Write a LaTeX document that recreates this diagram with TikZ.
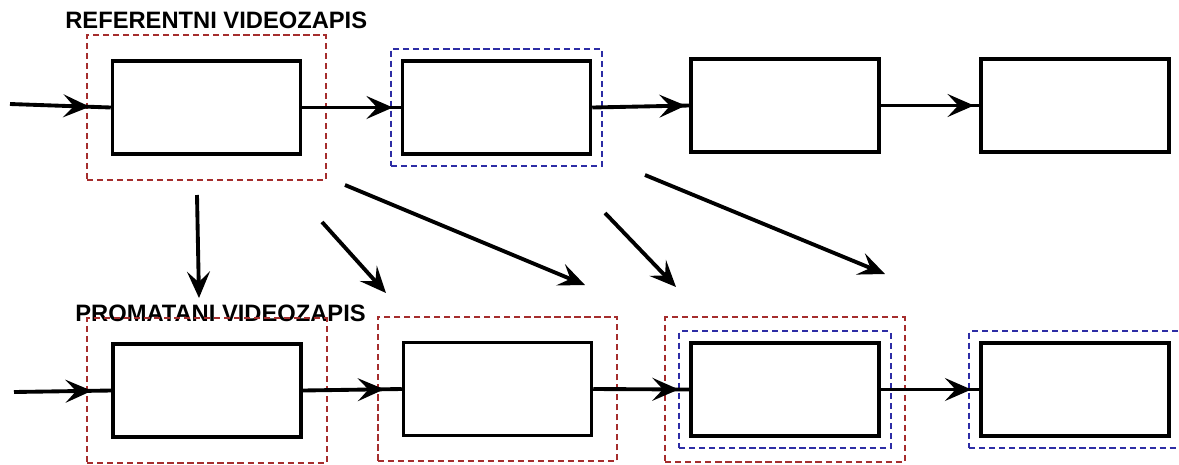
\documentclass[tikz,border=0pt]{standalone}
\usepackage{fontspec}
\newfontfamily\labelfont{Liberation Sans}
\usetikzlibrary{arrows.meta, fit, decorations.markings}
\definecolor{groupred}{RGB}{165,45,45}
\definecolor{groupblue}{RGB}{45,45,165}
\tikzset{
  frame/.style={draw, line width=2pt, minimum width=3.76cm, minimum height=1.86cm, inner sep=0pt},
  redgroup/.style={draw=groupred, line width=1pt, dash pattern=on 3.5pt off 2.2pt, inner sep=0.48cm},
  bluegroup/.style={draw=groupblue, line width=1pt, dash pattern=on 3.5pt off 2.2pt, inner sep=0.2cm},
  rowlabel/.style={font=\labelfont\bfseries\fontsize{13.5}{16}\selectfont, anchor=base west, inner sep=0pt}
}
\tikzset{
  flow/.style={line width=2.2pt, postaction={decorate},
    decoration={markings, mark=at position -#1 with {\arrow{Stealth[length=15pt,width=13pt,inset=6pt]}}}},
  jump/.style={line width=2.2pt, -{Stealth[length=15pt,width=13pt,inset=6pt]}}
}
\begin{document}
\begin{tikzpicture}[x=0.02cm, y=-0.02cm]
  \useasboundingbox (0,0) rectangle (1179,464);
  % reference row
  \node[rowlabel] (reflabel) at (65,28) {REFERENTNI VIDEOZAPIS};
  \node[frame] (r1) at (206.5,107.5) {};
  \node[frame] (r2) at (496.5,107.5) {};
  \node[frame] (r3) at (785,105.5) {};
  \node[frame] (r4) at (1075,105.5) {};
  \node[redgroup, fit=(r1)] (rg1) {};
  \node[bluegroup, fit=(r2)] (bg2) {};
  % watched row
  \node[rowlabel] (prolabel) at (75,321) {PROMATANI VIDEOZAPIS};
  \node[frame] (p1) at (207,390.5) {};
  \node[frame] (p2) at (497.5,389) {};
  \node[frame] (p3) at (785,389.5) {};
  \node[frame] (p4) at (1075,389.5) {};
  \node[redgroup, fit=(p1)] (pg1) {};
  \node[redgroup, fit=(p2)] (pg2) {};
  \node[redgroup, fit=(p3)] (pg3) {};
  \node[bluegroup, fit=(p3)] (qb3) {};
  \node[bluegroup, fit=(p4)] (qb4) {};
  % chains
  \coordinate (rin) at (10,104);
  \coordinate (pin) at (14,392);
  \draw[flow=12pt] (rin) -- (r1.west);
  \draw[flow=4.5pt] (r1.east) -- (r2.west);
  \draw[flow=2pt] (r2.east) -- (r3.west);
  \draw[flow=3pt] (r3.east) -- (r4.west);
  \draw[flow=11pt] (pin) -- (p1.west);
  \draw[flow=10pt] (p1.east) -- (p2.west);
  \draw[flow=6pt] (p2.east) -- (p3.west);
  \draw[flow=4.5pt] (p3.east) -- (p4.west);
  % matching jumps between the rows
  \coordinate (j1s) at (197,195);  \coordinate (j1e) at (199,298);
  \coordinate (j2s) at (322,222);  \coordinate (j2e) at (386,293);
  \coordinate (j3s) at (345,185);  \coordinate (j3e) at (585,285);
  \coordinate (j4s) at (605,213);  \coordinate (j4e) at (676,287);
  \coordinate (j5s) at (645,175);  \coordinate (j5e) at (885,274);
  \foreach \k in {1,...,5}
    \draw[jump] (j\k s) -- (j\k e);
\end{tikzpicture}
\end{document}
